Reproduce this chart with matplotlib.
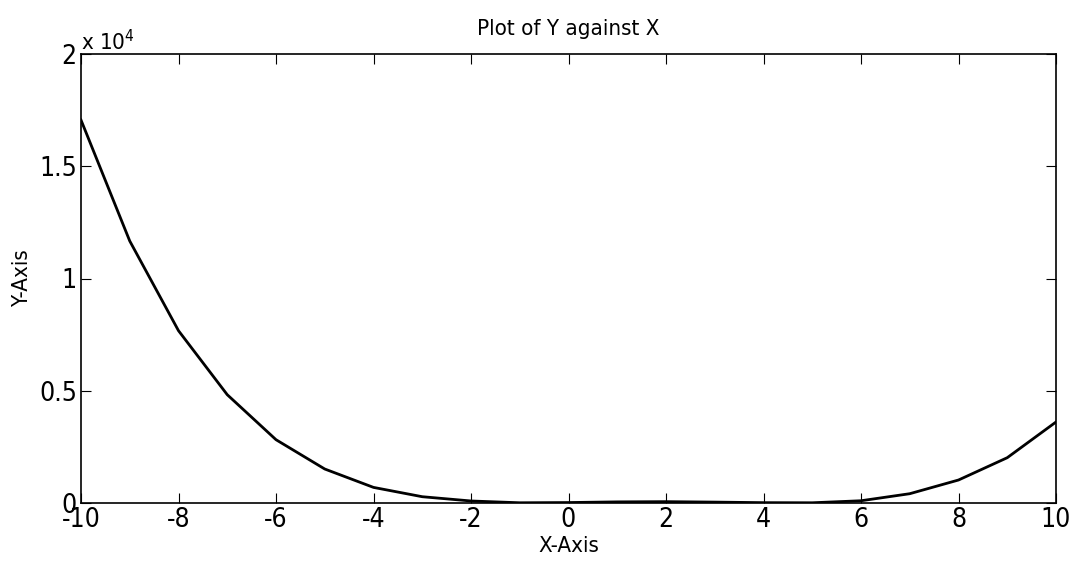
import matplotlib
matplotlib.use("Agg")
import matplotlib.pyplot as plt
from matplotlib.ticker import FuncFormatter, MultipleLocator

plt.rcParams['font.family'] = ['DejaVu Sans']
plt.rcParams['font.stretch'] = 'condensed'
plt.rcParams['axes.unicode_minus'] = False

x_values = [-10, -9, -8, -7, -6, -5, -4, -3, -2, -1, 0, 1, 2, 3, 4, 5, 6, 7, 8, 9, 10]
y_values = [17060, 11670, 7675, 4824, 2820, 1514, 695, 280, 90, 10, 20, 50, 60, 40, 15, 10, 100, 414, 1024, 2018, 3608]
title_text = "Plot of Y against X"
x_label = "X-Axis"
y_label = "Y-Axis"

fig = plt.figure(figsize=(10.7, 5.65), dpi=100)
ax = fig.add_axes([81/1070, 62/565, (1056-81)/1070, (503-54)/565])
ax.plot(x_values, y_values, color='black', linewidth=2.0)
ax.set_xlim(-10, 10)
ax.set_ylim(0, 20000)
ax.xaxis.set_major_locator(MultipleLocator(2))
ax.yaxis.set_major_locator(MultipleLocator(5000))
ax.yaxis.set_major_formatter(FuncFormatter(lambda v, p: ('%g' % (v / 1e4))))
ax.tick_params(direction='in', top=True, right=True, length=7, width=0.8, labelsize=19, pad=3)
for s in ax.spines.values():
    s.set_linewidth(1.2)
ax.text(0.0, 1.0, r'x 10$^4$', transform=ax.transAxes, fontsize=16, ha='left', va='bottom')
ax.set_title(title_text, fontsize=16, pad=14)
ax.set_xlabel(x_label, fontsize=16, labelpad=2)
ax.set_ylabel(y_label, fontsize=16, labelpad=5)
fig.savefig("out.png", dpi=100)
